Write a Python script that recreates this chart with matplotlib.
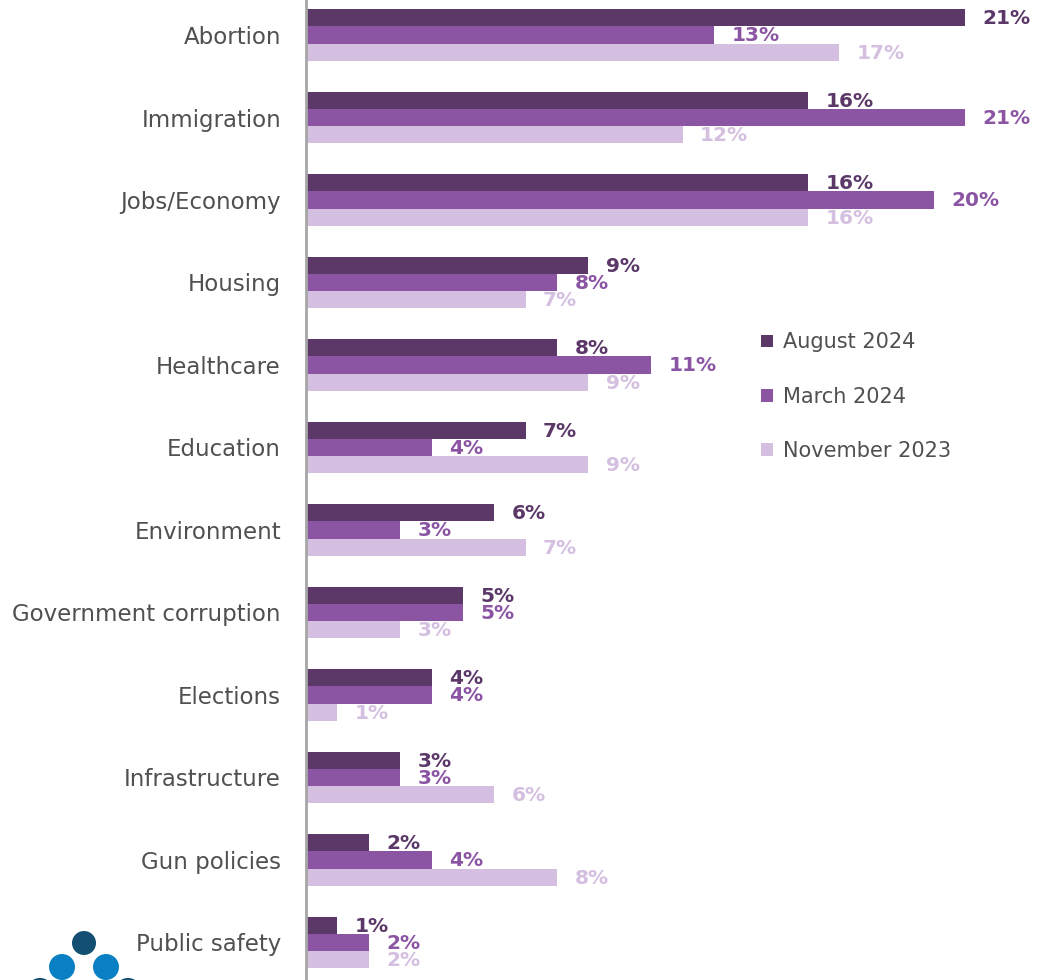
import matplotlib
matplotlib.use("Agg")
import matplotlib.pyplot as plt
import numpy as np
from matplotlib.patches import Circle

categories = ["Abortion", "Immigration", "Jobs/Economy", "Housing", "Healthcare",
              "Education", "Environment", "Government corruption", "Elections",
              "Infrastructure", "Gun policies", "Public safety"]
series_names = ["August 2024", "March 2024", "November 2023"]
aug_2024 = [21, 16, 16, 9, 8, 7, 6, 5, 4, 3, 2, 1]
mar_2024 = [13, 21, 20, 8, 11, 4, 3, 5, 4, 3, 4, 2]
nov_2023 = [17, 12, 16, 7, 9, 9, 7, 3, 1, 6, 8, 2]

colors = ["#5c3869", "#8b55a3", "#d4bfe0"]
text_color = "#505050"

fig = plt.figure(figsize=(10.37, 9.8), dpi=100)
ax = fig.add_axes([306 / 1037, 0, 1 - 306 / 1037, 1])

spacing = 82.5
y = np.arange(len(categories))
h = 17.3 / spacing
offsets = [-h, 0, h]
data = [aug_2024, mar_2024, nov_2023]

for vals, off, col, name in zip(data, offsets, colors, series_names):
    ax.barh(y + off, vals, height=h, color=col, label=name, linewidth=0)
    for yi, v in zip(y, vals):
        ax.text(v + 0.55, yi + off + 0.01, f"{v}%", va="center", ha="left",
                fontsize=14.5, fontweight="bold", color=col)

px_per_unit = 659 / 21
ax.set_xlim(0, (1037 - 306) / px_per_unit)
top = -35 / spacing
ax.set_ylim(top + 980 / spacing, top)

ax.set_yticks(y)
ax.set_yticklabels(categories, fontsize=16.5, color=text_color)
ax.tick_params(axis="y", length=0, pad=18)
ax.set_xticks([])
for s in ["top", "right", "bottom"]:
    ax.spines[s].set_visible(False)
ax.spines["left"].set_color("#a6a6a6")
ax.spines["left"].set_linewidth(2)
ax.patch.set_visible(False)

leg = ax.legend(loc="upper left", bbox_to_anchor=((753 - 306) / (1037 - 306), 1 - 324 / 980),
                frameon=False, fontsize=15, handlelength=0.55, handleheight=0.55,
                handletextpad=0.5, labelspacing=1.65, labelcolor=text_color,
                borderaxespad=0)

# logo (partial, bottom-left)
lax = fig.add_axes([0, 0, 1, 1])
lax.set_xlim(0, 1037)
lax.set_ylim(980, 0)
lax.axis("off")
lax.patch.set_visible(False)
for (cx, cy, r, c) in [(84, 943, 12, "#134f72"), (62, 967, 13, "#0a80c4"),
                       (106, 967, 13, "#0a80c4"), (40, 992, 14, "#134f72"),
                       (128, 992, 14, "#134f72")]:
    lax.add_patch(Circle((cx, cy), r, color=c, linewidth=0))

fig.savefig("out.png", dpi=100)
